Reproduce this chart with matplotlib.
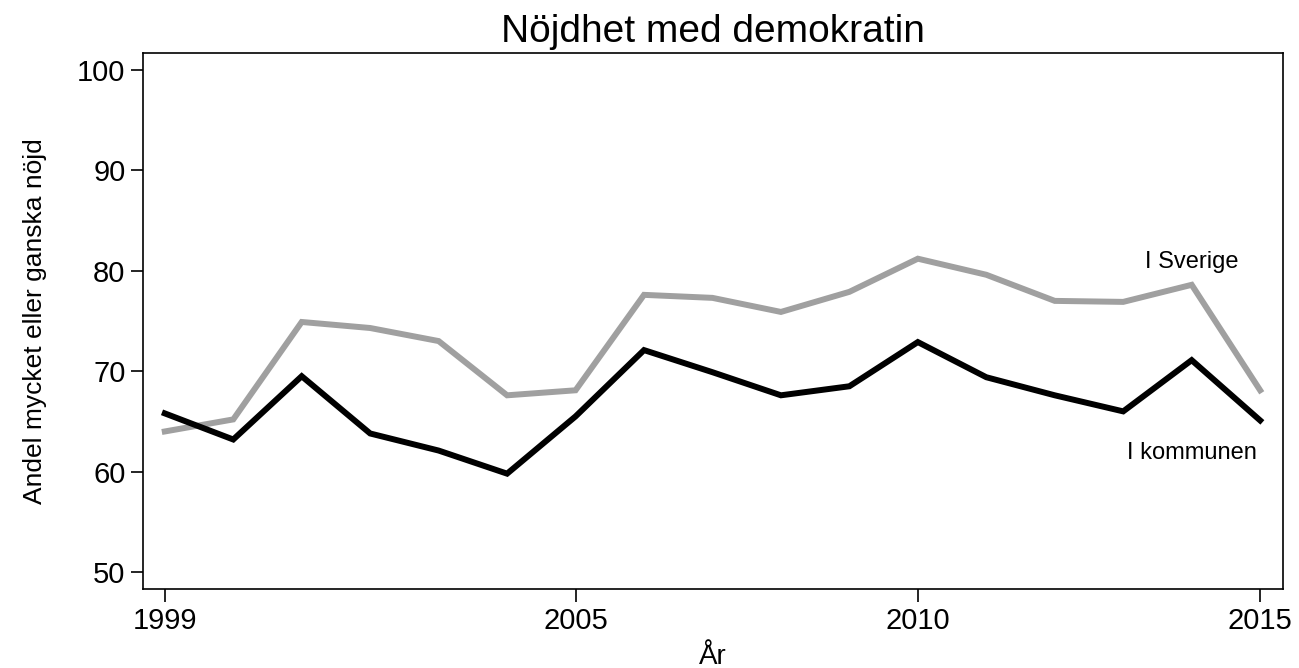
import matplotlib.pyplot as plt

years = list(range(1999, 2016))
sverige = [64.0, 65.2, 74.9, 74.3, 73.0, 67.6, 68.1, 77.6, 77.3, 75.9, 77.9, 81.2,
           79.6, 77.0, 76.9, 78.6, 68.1]
kommunen = [65.8, 63.2, 69.5, 63.8, 62.1, 59.8, 65.5, 72.1, 69.9, 67.6, 68.5, 72.9,
            69.4, 67.6, 66.0, 71.1, 65.1]
xticks = [1999, 2005, 2010, 2015]
yticks = [50, 60, 70, 80, 90, 100]

plt.rcParams['font.family'] = ['Liberation Sans', 'DejaVu Sans']

fig = plt.figure(figsize=(12.99, 6.68), dpi=100)
ax = fig.add_axes([0.110, 0.118, 0.878, 0.803])

ax.plot(years, sverige, color="#a0a0a0", lw=4.3, solid_joinstyle="miter")
ax.plot(years, kommunen, color="black", lw=4.3, solid_joinstyle="miter")

# line labels
ax.text(2014.0, 80.9, "I Sverige", fontsize=17, ha="center", va="center")
ax.text(2014.0, 61.9, "I kommunen", fontsize=17, ha="center", va="center")

ax.set_xlim(1998.68, 2015.34)
ax.set_ylim(48.3, 101.7)
ax.set_xticks(xticks)
ax.set_yticks(yticks)
ax.tick_params(labelsize=21, length=9, width=1.2)
for s in ax.spines.values():
    s.set_linewidth(1.2)

ax.set_title("Nöjdhet med demokratin", fontsize=28, pad=8)
ax.set_xlabel("År", fontsize=20, labelpad=7)
ax.set_ylabel("Andel mycket eller ganska nöjd", fontsize=19, labelpad=22)

fig.savefig("out.png", dpi=100)
